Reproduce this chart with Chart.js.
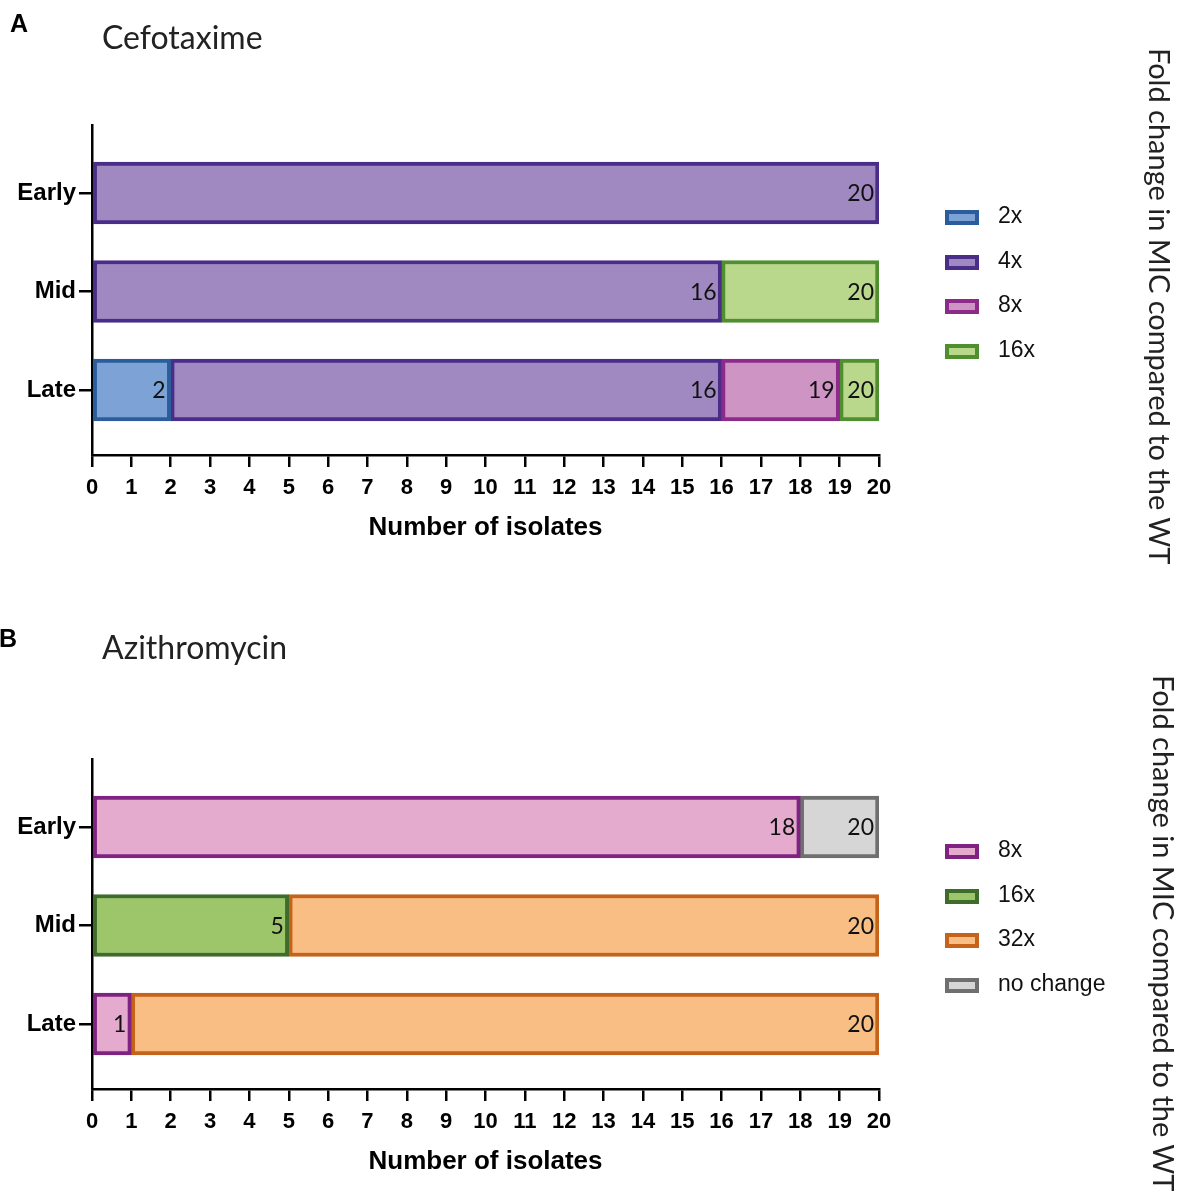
<!DOCTYPE html>
<html>
<head>
<meta charset="utf-8">
<script src="https://cdn.jsdelivr.net/npm/chart.js@4.4.1/dist/chart.umd.min.js"></script>
<style>
  html, body { margin: 0; padding: 0; background: #fff; }
  body { width: 1184px; height: 1192px; position: relative; overflow: hidden; }
  .panel { position: absolute; left: 0; width: 1184px; height: 558px; }
  .panel canvas { position: absolute; left: 0; top: 0; }
  .letter { position: absolute; font: bold 25px "Liberation Sans", Arial, sans-serif; color: #000; line-height: 1; }
  .title { position: absolute; left: 102px; font: 32px Lato, "Open Sans", sans-serif; color: #222; line-height: 1; }
  .side { position: absolute; writing-mode: vertical-rl; font: 29px Lato, "Open Sans", sans-serif; color: #222; line-height: 1; white-space: nowrap; }
  .legend { position: absolute; left: 945px; top: 0; }
  .legend .item { position: absolute; left: 0; height: 20px; white-space: nowrap; }
  .legend .box { position: absolute; left: 0; top: 3px; width: 26px; height: 7px; border-width: 4px; border-style: solid; }
  .legend .txt { position: absolute; left: 53px; top: -5px; font: 23px "Liberation Sans", Arial, sans-serif; color: #111; }
</style>
</head>
<body>
<div class="panel" style="top:0px">
  <canvas id="chartA" width="1184" height="558"></canvas>
  <div class="letter" style="left:10px; top:11px">A</div>
  <div class="title" style="top:21px">Cefotaxime</div>
  <div class="legend" id="legendA"></div>
  <div class="side" style="left:1146px; top:48px">Fold change in MIC compared to the WT</div>
</div>
<div class="panel" style="top:634px">
  <canvas id="chartB" width="1184" height="558"></canvas>
  <div class="letter" style="left:-1px; top:-8px">B</div>
  <div class="title" style="top:-3px">Azithromycin</div>
  <div class="legend" id="legendB"></div>
  <div class="side" style="left:1150px; top:41px">Fold change in MIC compared to the WT</div>
</div>
<script>
// categories (top to bottom)
const stages = ["Early", "Mid", "Late"];
const isolateTicks = [0, 1, 2, 3, 4, 5, 6, 7, 8, 9, 10, 11, 12, 13, 14, 15, 16, 17, 18, 19, 20];

// Cefotaxime: isolates per fold change
const cefoSeries = ["2x", "4x", "8x", "16x"];
const cefo2x = [0, 0, 2];
const cefo4x = [20, 16, 14];
const cefo8x = [0, 0, 3];
const cefo16x = [0, 4, 1];

// Azithromycin: isolates per fold change
const aziSeries = ["8x", "16x", "32x", "no change"];
const azi8x = [18, 0, 1];
const azi16x = [0, 5, 0];
const azi32x = [0, 15, 19];
const aziNoChange = [2, 0, 0];

const cefoFill = ["#7da3d6", "#a088c0", "#cd94c4", "#bad88b"];
const cefoLine = ["#2b5d9c", "#4a2d88", "#8c2b8a", "#4f8f2f"];
const aziFill = ["#e4abcf", "#9dc66b", "#f8be83", "#d6d6d6"];
const aziLine = ["#7f2382", "#3f6c2b", "#c6631b", "#6f6f6f"];

const axisFont = "'Liberation Sans', Arial, sans-serif";

// writes the running total at the end of every segment
const cumulativeLabels = {
  id: "cumulativeLabels",
  afterDatasetsDraw(chart) {
    const ctx = chart.ctx;
    const totals = stages.map(() => 0);
    ctx.save();
    ctx.font = "23px Lato, 'Open Sans', sans-serif";
    ctx.fillStyle = "#111";
    ctx.textAlign = "right";
    ctx.textBaseline = "middle";
    chart.data.datasets.forEach((ds, di) => {
      const meta = chart.getDatasetMeta(di);
      meta.data.forEach((bar, j) => {
        const pt = ds.data[j];
        totals[pt.y] += pt.x;
        ctx.fillText(String(totals[pt.y]), bar.x - 5, bar.y + 1);
      });
    });
    ctx.restore();
  }
};

function makeChart(canvasId, legendId, names, values, fills, lines) {
  const datasets = names.map((name, i) => ({
    label: name,
    data: values[i].map((v, j) => ({ x: v, y: j })).filter(p => p.x > 0),
    backgroundColor: fills[i],
    borderColor: lines[i],
    borderWidth: 4,
    borderSkipped: false,
    barThickness: 62
  }));

  new Chart(document.getElementById(canvasId), {
    type: "bar",
    data: { datasets: datasets },
    plugins: [cumulativeLabels],
    options: {
      indexAxis: "y",
      responsive: false,
      animation: false,
      layout: { padding: { left: 0, right: 305, top: 125, bottom: 0 } },
      plugins: { legend: { display: false }, tooltip: { enabled: false } },
      scales: {
        x: {
          type: "linear",
          stacked: true,
          min: 0,
          max: 20,
          afterBuildTicks: (scale) => { scale.ticks = isolateTicks.map(v => ({ value: v })); },
          afterFit: (scale) => { scale.height = 103; },
          ticks: { color: "#000", font: { family: axisFont, size: 22, weight: "bold" }, padding: 8, autoSkip: false, maxRotation: 0 },
          grid: { drawOnChartArea: false, drawTicks: true, tickLength: 12, color: "#000", lineWidth: 2.5 },
          border: { display: true, color: "#000", width: 2.5 },
          title: { display: true, text: "Number of isolates", color: "#000", font: { family: axisFont, size: 26, weight: "bold" }, padding: { top: 0, bottom: 15 } }
        },
        y: {
          type: "linear",
          stacked: true,
          reverse: true,
          offset: false,
          min: -0.69,
          max: 2.66,
          afterBuildTicks: (scale) => { scale.ticks = stages.map((s, i) => ({ value: i })); },
          afterFit: (scale) => { scale.width = 92; },
          ticks: { color: "#000", font: { family: axisFont, size: 24, weight: "bold" }, padding: 3, autoSkip: false, callback: (v) => stages[v] },
          grid: { offset: false, drawOnChartArea: false, drawTicks: true, tickLength: 13, color: "#000", lineWidth: 2.5 },
          border: { display: true, color: "#000", width: 2.5 }
        }
      }
    }
  });

  // legend rows
  const legend = document.getElementById(legendId);
  const rowTops = [207, 252, 296, 341];
  names.forEach((name, i) => {
    const item = document.createElement("div");
    item.className = "item";
    item.style.top = rowTops[i] + "px";
    item.innerHTML = '<div class="box" style="background:' + fills[i] + ';border-color:' + lines[i] + '"></div><div class="txt">' + name + '</div>';
    legend.appendChild(item);
  });
}

makeChart("chartA", "legendA", cefoSeries, [cefo2x, cefo4x, cefo8x, cefo16x], cefoFill, cefoLine);
makeChart("chartB", "legendB", aziSeries, [azi8x, azi16x, azi32x, aziNoChange], aziFill, aziLine);
</script>
</body>
</html>
